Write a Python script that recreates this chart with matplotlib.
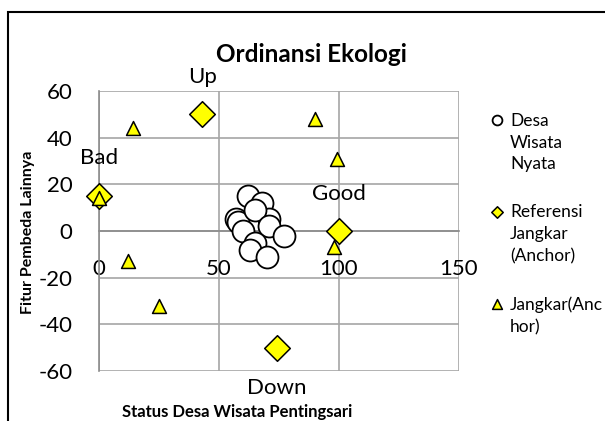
import matplotlib.pyplot as plt
from matplotlib.patches import Rectangle

plt.rcParams['font.family'] = ['Lato', 'DejaVu Sans']
plt.rcParams['axes.unicode_minus'] = False

# data
village_x = [62, 68, 57, 58, 71, 65, 60, 71, 77, 65, 63, 70]
village_y = [15, 12, 5, 4, 5, 9, 0, 2, -2, -5, -8, -11]

ref_x = [0, 43, 100, 74]
ref_y = [15, 50, 0, -50]
ref_text = ['Bad', 'Up', 'Good', 'Down']

anchor_x = [0, 14, 12, 25, 90, 99, 98]
anchor_y = [14, 44, -13, -32, 48, 31, -7]

xticks = [0, 50, 100, 150]
yticks = [-60, -40, -20, 0, 20, 40, 60]

fig = plt.figure(figsize=(6.05, 4.21), dpi=100)
ax = fig.add_axes([99/605, 1-371/421, 360/605, 280/421])

ax.scatter(village_x, village_y, s=250, c='white', edgecolors='black',
           linewidths=1.3, zorder=3, clip_on=False, label='Desa\nWisata\nNyata')
ax.scatter(ref_x, ref_y, s=170, marker='D', c='#ffff00', edgecolors='black',
           linewidths=1.1, zorder=4, clip_on=False, label='Referensi\nJangkar\n(Anchor)')
ax.scatter(anchor_x, anchor_y, s=100, marker='^', c='#ffff00', edgecolors='black',
           linewidths=1.1, zorder=5, clip_on=False, label='Jangkar(Anc\nhor)')

# labels on the reference points
for x, y, t in zip(ref_x, ref_y, ref_text):
    off = -29 if t == 'Down' else 27
    ax.annotate(t, (x, y), xytext=(0, off), textcoords='offset points',
                ha='center', va='center', fontsize=16)

ax.set_xlim(0, 150)
ax.set_ylim(-60, 60)
ax.set_xticks(xticks)
ax.set_yticks(yticks)
ax.grid(True, color='#a6a6a6', lw=1.2)
ax.set_axisbelow(True)

for s in ['top', 'right']:
    ax.spines[s].set_visible(False)
ax.spines['bottom'].set_position(('data', 0))
ax.spines['bottom'].set_color('#8c8c8c')
ax.spines['left'].set_color('#8c8c8c')
ax.spines['bottom'].set_linewidth(1.2)
ax.spines['left'].set_linewidth(1.2)
ax.tick_params(length=0, labelsize=16)
ax.tick_params(axis='x', pad=20)
ax.tick_params(axis='y', pad=19)

fig.text(311/605, 1-54/421, 'Ordinansi Ekologi', ha='center', va='center',
         fontsize=17.5, fontweight='bold')
fig.text(28/605, 1-232/421, 'Fitur Pembeda Lainnya', ha='center', va='center',
         rotation=90, fontsize=11.5, fontweight='bold')
fig.text(237/605, 1-412/421, 'Status Desa Wisata Pentingsari', ha='center',
         va='center', fontsize=12, fontweight='bold')

leg = ax.legend(loc='upper left', bbox_to_anchor=(483/605, 1-104/421),
                bbox_transform=fig.transFigure, frameon=False, fontsize=12.5,
                handlelength=0.6, handletextpad=0.45, labelspacing=1.85,
                borderpad=0)
for t in leg.get_texts():
    t.set_linespacing(1.45)
for h, sz in zip(leg.legend_handles, [50, 34, 50]):
    h.set_sizes([sz])
for col in leg._legend_handle_box.get_children():
    for item in col.get_children():
        item.align = 'top'

fig.add_artist(Rectangle((8/605, -0.1), 1.0, 1.1 - 12/421, transform=fig.transFigure,
                         fill=False, ec='black', lw=1.5))

fig.savefig('out.png', dpi=100)
